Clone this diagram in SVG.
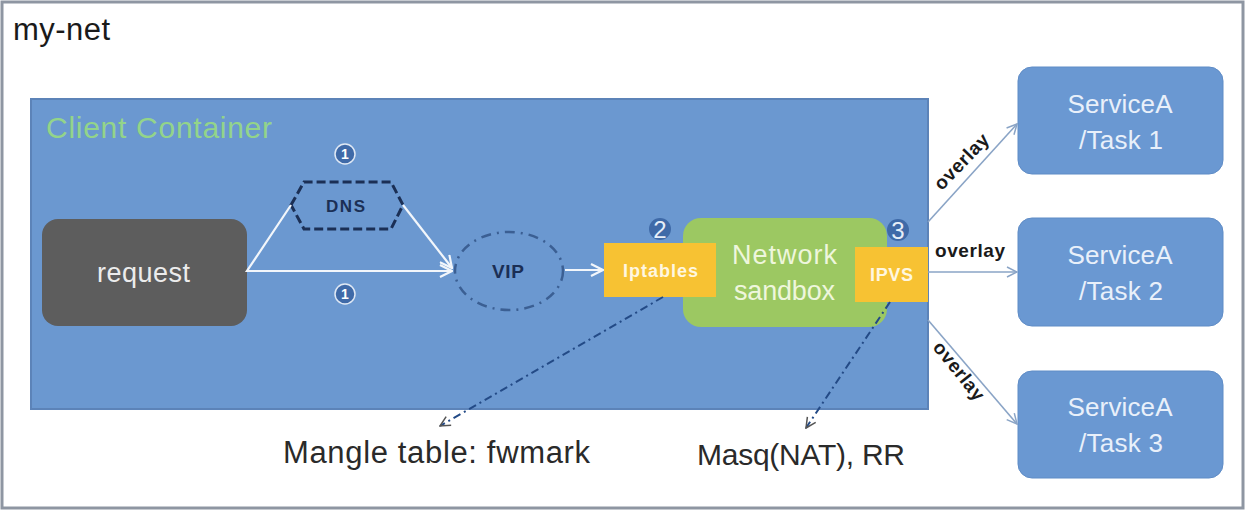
<svg xmlns="http://www.w3.org/2000/svg" width="1246" height="511" viewBox="0 0 1246 511">
<defs>
<style>
.t{font-family:"Liberation Sans","DejaVu Sans",sans-serif}
.svc rect{fill:#6a98d2;stroke:#5f8cc6;stroke-width:1}
.svc text{fill:#e9f0fa;font-size:26px;text-anchor:middle}
.ov{stroke:#8aa4c6;stroke-width:1.6;fill:none;marker-end:url(#open)}
.ovt{fill:#1a1a1a;font-size:19px;font-weight:bold;text-anchor:middle}
.wl{stroke:#f2f6fb;stroke-width:2.2;fill:none}
.dd{stroke:#234a86;stroke-width:2;fill:none;stroke-dasharray:8 4 2 4;marker-end:url(#open2)}
.num{fill:#3f6aa8;stroke:#dfe8f4;stroke-width:1.5}
.numt{fill:#ffffff;font-size:14px;font-weight:bold;text-anchor:middle}
</style>
<marker id="open" viewBox="0 0 12 12" refX="11" refY="6" markerWidth="12" markerHeight="12" markerUnits="userSpaceOnUse" orient="auto">
<path d="M1,1 L11,6 L1,11" fill="none" stroke="#8aa4c6" stroke-width="1.5"/>
</marker>
<marker id="openw" viewBox="0 0 14 14" refX="13" refY="7" markerWidth="14" markerHeight="14" markerUnits="userSpaceOnUse" orient="auto">
<path d="M1,1 L13,7 L1,13" fill="none" stroke="#f2f6fb" stroke-width="2.2"/>
</marker>
<marker id="open2" viewBox="0 0 12 12" refX="11" refY="6" markerWidth="12" markerHeight="12" markerUnits="userSpaceOnUse" orient="auto">
<path d="M1,1 L11,6 L1,11" fill="none" stroke="#555" stroke-width="1.5"/>
</marker>
</defs>
<rect x="0" y="0" width="1246" height="511" fill="#ffffff"/>
<rect x="2" y="2" width="1241" height="506" fill="#ffffff" stroke="#8e96a2" stroke-width="3"/>
<text class="t" x="13" y="40" font-size="31" fill="#1a1a1a" textLength="97">my-net</text>

<g id="client-container">
<rect x="31" y="99" width="897" height="310" fill="#6b98d0" stroke="#5c83b8" stroke-width="2"/>
<text class="t" x="46" y="138" font-size="30" fill="#93d48a" textLength="226">Client Container</text>
</g>

<g id="request">
<rect x="42" y="219" width="205" height="107" rx="16" fill="#5d5d5d"/>
<text class="t" x="97" y="282" font-size="27" fill="#ececec" textLength="93">request</text>
</g>

<g id="dns">
<polygon points="291,205 304,182 391,182 403,205 391,229 304,229" fill="none" stroke="#1b2f55" stroke-width="3" stroke-dasharray="9 4"/>
<text class="t" x="326" y="212" font-size="17" font-weight="bold" fill="#1b2f55" textLength="39">DNS</text>
</g>

<g id="vip">
<ellipse cx="509" cy="271" rx="54" ry="39" fill="none" stroke="#3b5f93" stroke-width="2.5" stroke-dasharray="10 6 2 6"/>
<text class="t" x="492" y="278" font-size="19" font-weight="bold" fill="#1b2f55" textLength="32">VIP</text>
</g>

<g id="network-sandbox">
<rect x="683" y="218" width="204" height="109" rx="18" fill="#9cc862"/>
<text class="t" x="732" y="264" font-size="27" fill="#eef6dc" textLength="105">Network</text>
<text class="t" x="734" y="300" font-size="27" fill="#eef6dc" textLength="101">sandbox</text>
</g>

<g id="iptables">
<rect x="604" y="243" width="112" height="54" fill="#f7c233"/>
<text class="t" x="623" y="277" font-size="18" font-weight="bold" fill="#fff7e0" textLength="75">Iptables</text>
</g>

<g id="ipvs">
<rect x="855" y="247" width="73" height="55" fill="#f7c233"/>
<text class="t" x="870" y="281" font-size="18" font-weight="bold" fill="#fff7e0" textLength="43">IPVS</text>
</g>

<g id="markers">
<circle class="num" cx="345" cy="154" r="10"/>
<text class="t numt" x="345" y="159">1</text>
<circle class="num" cx="345" cy="294" r="10"/>
<text class="t numt" x="345" y="299">1</text>
<circle cx="660" cy="229" r="11" fill="#3f6aa8"/>
<text class="t" x="660" y="238" font-size="24" fill="#e6eef8" text-anchor="middle">2</text>
<circle cx="898" cy="230" r="11" fill="#3f6aa8"/>
<text class="t" x="898" y="239" font-size="24" fill="#e6eef8" text-anchor="middle">3</text>
</g>

<g id="svc1" class="svc">
<rect x="1018" y="67" width="205" height="107" rx="14"/>
<text class="t" x="1120" y="113" textLength="105">ServiceA</text>
<text class="t" x="1121" y="149" textLength="84">/Task 1</text>
</g>
<g id="svc2" class="svc">
<rect x="1018" y="218" width="205" height="108" rx="14"/>
<text class="t" x="1120" y="264" textLength="105">ServiceA</text>
<text class="t" x="1121" y="300" textLength="84">/Task 2</text>
</g>
<g id="svc3" class="svc">
<rect x="1018" y="371" width="205" height="107" rx="14"/>
<text class="t" x="1120" y="416" textLength="105">ServiceA</text>
<text class="t" x="1121" y="452" textLength="84">/Task 3</text>
</g>

<g id="connectors">
<polyline class="wl" points="291,205 247,271 452,271" marker-end="url(#openw)"/>
<line class="wl" x1="403" y1="205" x2="452" y2="268" marker-end="url(#openw)"/>
<line class="wl" x1="565" y1="270" x2="603" y2="270" marker-end="url(#openw)"/>
<line class="ov" x1="928" y1="222" x2="1017" y2="124"/>
<line class="ov" x1="928" y1="272" x2="1017" y2="272"/>
<line class="ov" x1="928" y1="320" x2="1017" y2="424"/>
<line class="dd" x1="663" y1="297" x2="440" y2="426"/>
<line class="dd" x1="890" y1="302" x2="806" y2="428"/>
<text class="t ovt" transform="translate(966,166) rotate(-46)" textLength="70">overlay</text>
<text class="t ovt" x="970" y="257" textLength="70">overlay</text>
<text class="t ovt" transform="translate(954,375) rotate(51)" textLength="70">overlay</text>
</g>

<text class="t" x="283" y="463" font-size="31" fill="#2a2a2a" textLength="307">Mangle table: fwmark</text>
<text class="t" x="697" y="465" font-size="30" fill="#2a2a2a" textLength="208">Masq(NAT), RR</text>
</svg>
